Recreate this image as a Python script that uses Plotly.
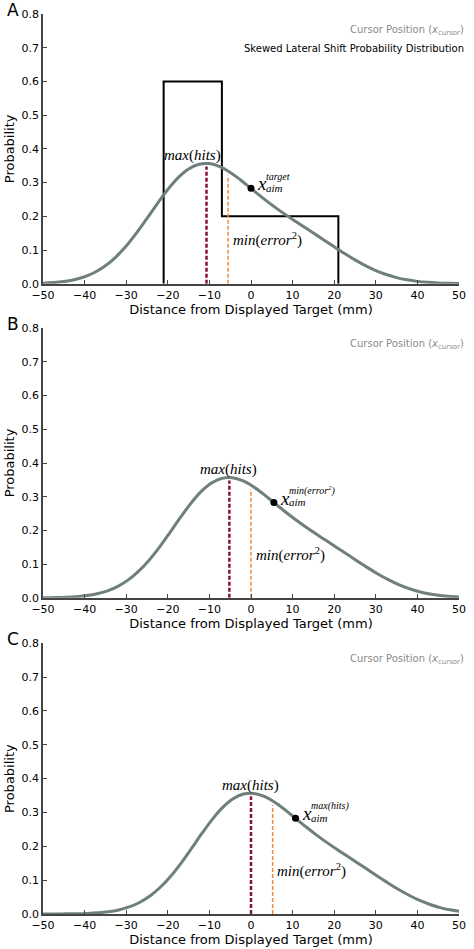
import plotly.graph_objects as go
from plotly.subplots import make_subplots

# cursor distribution, x relative to the aim point (mm)
curve_offset = [-62.5, -60, -57.5, -55, -52.5, -50, -47.5, -45, -42.5, -40, -37.5, -35, -32.5,
                -30, -27.5, -25, -22.5, -20, -17.5, -15, -12.5, -10, -7.5, -5, -2.5, 0, 2.5,
                5, 7.5, 10, 12.5, 15, 17.5, 20, 22.5, 25, 27.5, 30, 32.5, 35, 37.5, 40, 42.5,
                45, 47.5, 50]
curve_prob = [0.00003, 0.00006, 0.00015, 0.0004, 0.0008, 0.0017, 0.0035, 0.0066, 0.012, 0.0208,
              0.0341, 0.0532, 0.079, 0.1117, 0.1506, 0.1937, 0.2379, 0.2796, 0.3149, 0.3404,
              0.3544, 0.3563, 0.3474, 0.3302, 0.3077, 0.2826, 0.2577, 0.2339, 0.2116, 0.1907,
              0.1705, 0.1503, 0.13, 0.1096, 0.0896, 0.0708, 0.0538, 0.0392, 0.0273, 0.0182,
              0.0116, 0.007, 0.0041, 0.0022, 0.0012, 0.0006]

# per panel: aim point, max(hits) line, min(error^2) line
panels = ["A", "B", "C"]
aim_x = [0, 5.5, 10.7]
aim_y = [0.283, 0.283, 0.283]
max_hits_x = [-10.7, -5.2, 0]
max_hits_top = [0.348, 0.348, 0.348]
min_err_x = [-5.5, 0, 5.2]
min_err_top = [0.322, 0.322, 0.322]
max_label_x = [-14, -5.3, -0.2]
aim_labels = ["target", "min(error<sup>2</sup>)", "max(hits)"]

# skewed lateral shift distribution (panel A only)
step_x = [-21, -21, -7, 21, 21]
step_y = [0, 0.6, 0.2, 0.2, 0]

x_ticks = [-50, -40, -30, -20, -10, 0, 10, 20, 30, 40, 50]
y_ticks = [0.0, 0.1, 0.2, 0.3, 0.4, 0.5, 0.6, 0.7, 0.8]

curve_col = "#6e7f7d"
red_col = "#8a0f3c"
orange_col = "#f08a3c"
font = "DejaVu Sans"
serif = "Liberation Serif"

fig = make_subplots(rows=3, cols=1)
domains = [[0.7003, 1.0], [0.3513, 0.6509], [0.0, 0.3008]]

for i, p in enumerate(panels):
    r = i + 1
    if i == 0:
        fig.add_trace(go.Scatter(x=step_x, y=step_y, mode="lines", line_shape="hv",
                                 line=dict(color="black", width=2), showlegend=False), row=r, col=1)
    fig.add_trace(go.Scatter(x=[o + aim_x[i] for o in curve_offset], y=curve_prob, mode="lines",
                             line_shape="spline", line=dict(color=curve_col, width=3),
                             showlegend=False), row=r, col=1)
    fig.add_trace(go.Scatter(x=[max_hits_x[i]] * 2, y=[0, max_hits_top[i]], mode="lines",
                             line=dict(color=red_col, width=2.5, dash="4px,2px"),
                             showlegend=False), row=r, col=1)
    fig.add_trace(go.Scatter(x=[min_err_x[i]] * 2, y=[0, min_err_top[i]], mode="lines",
                             line=dict(color=orange_col, width=1.5, dash="4px,2px"),
                             showlegend=False), row=r, col=1)
    fig.add_trace(go.Scatter(x=[aim_x[i]], y=[aim_y[i]], mode="markers",
                             marker=dict(color="black", size=7), showlegend=False), row=r, col=1)

    xa = "x" if i == 0 else "x%d" % r
    ya = "y" if i == 0 else "y%d" % r
    fig.update_xaxes(range=[-50, 50], tickvals=x_ticks, showline=True, linecolor="#444",
                     linewidth=1.5, ticks="inside", ticklen=4, tickcolor="#444", showgrid=False,
                     zeroline=False, tickfont=dict(family=font, size=11, color="black"),
                     title=dict(text="Distance from Displayed Target (mm)", standoff=0,
                                font=dict(family=font, size=13, color="black")),
                     row=r, col=1)
    fig.update_yaxes(range=[0, 0.8], tickvals=y_ticks, tickformat=".1f", showline=True,
                     linecolor="#444", linewidth=1.5, ticks="inside", ticklen=4, tickcolor="#444",
                     showgrid=False, zeroline=False, domain=domains[i],
                     tickfont=dict(family=font, size=11, color="black"),
                     title=dict(text="Probability", standoff=4,
                                font=dict(family=font, size=13, color="black")),
                     row=r, col=1)

    # panel letter
    fig.add_annotation(xref="paper", yref="paper", x=-0.091, y=domains[i][1] + 0.005,
                       text=p, showarrow=False, xanchor="left", yanchor="middle",
                       font=dict(family=font, size=17, color="black"))
    # legend text
    fig.add_annotation(xref="paper", yref="paper", x=1.016, y=domains[i][1] - 0.018,
                       text="Cursor Position (<i>x</i><sub>cursor</sub>)", showarrow=False,
                       xanchor="right", yanchor="middle",
                       font=dict(family=font, size=10, color="#8a8a8a"))
    if i == 0:
        fig.add_annotation(xref="paper", yref="paper", x=1.016, y=domains[i][1] - 0.038,
                           text="Skewed Lateral Shift Probability Distribution", showarrow=False,
                           xanchor="right", yanchor="middle",
                           font=dict(family=font, size=10, color="black"))

    # math labels
    fig.add_annotation(xref=xa, yref=ya, x=max_label_x[i], y=0.381,
                       text="<i>max</i>(<i>hits</i>)", showarrow=False,
                       xanchor="center", yanchor="middle",
                       font=dict(family=serif, size=15, color="black"))
    fig.add_annotation(xref=xa, yref=ya, x=min_err_x[i] + 0.6, y=0.13,
                       text="<i>min</i>(<i>error</i><sup>2</sup>)", showarrow=False,
                       xanchor="left", yanchor="middle",
                       font=dict(family=serif, size=15, color="black"))
    fig.add_annotation(xref=xa, yref=ya, x=aim_x[i] + 1.0, y=0.296,
                       text="<i>x</i>", showarrow=False, xanchor="left", yanchor="middle",
                       font=dict(family=serif, size=19, color="black"))
    fig.add_annotation(xref=xa, yref=ya, x=aim_x[i] + 3.2, y=0.318,
                       text="<i>" + aim_labels[i] + "</i>", showarrow=False,
                       xanchor="left", yanchor="middle",
                       font=dict(family=serif, size=10, color="black"))
    fig.add_annotation(xref=xa, yref=ya, x=aim_x[i] + 3.2, y=0.284,
                       text="<i>aim</i>", showarrow=False, xanchor="left", yanchor="middle",
                       font=dict(family=serif, size=11, color="black"))

fig.update_layout(width=474, height=949, margin=dict(l=39, r=8, t=11, b=27),
                  plot_bgcolor="white", paper_bgcolor="white")

# the page's default body margin would push the figure off the window
fig.write_html("out.html", config={"displayModeBar": False},
               post_script="document.body.style.margin='0';")
